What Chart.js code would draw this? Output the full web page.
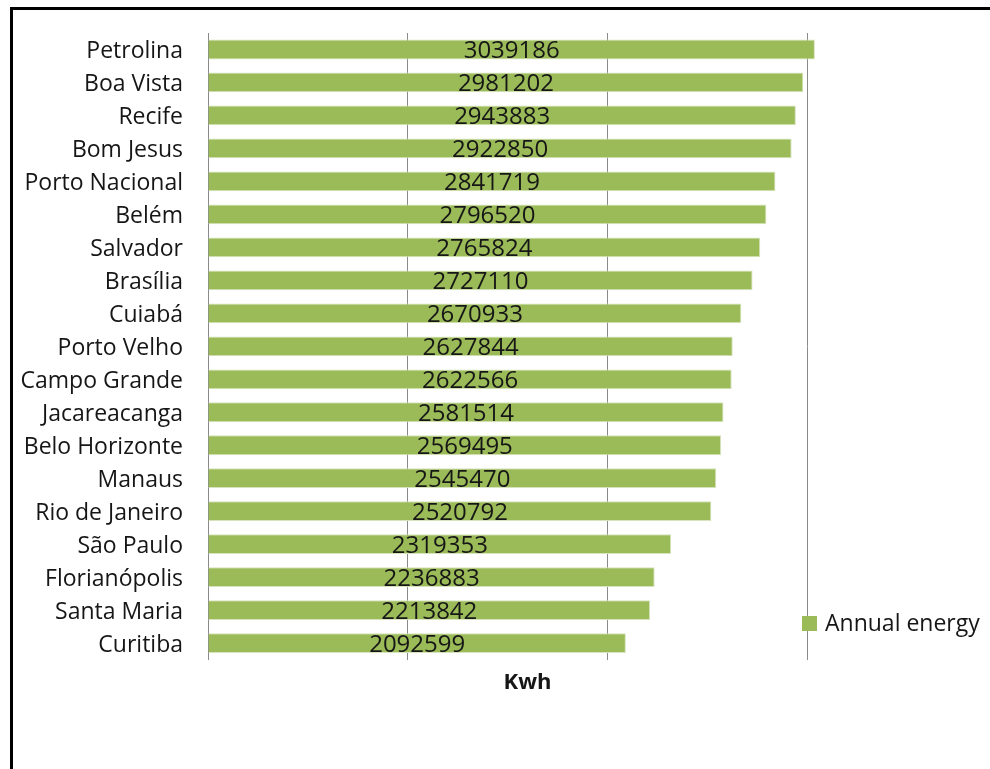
<!DOCTYPE html>
<html>
<head>
<meta charset="utf-8">
<title>Annual energy</title>
<script src="https://cdn.jsdelivr.net/npm/chart.js@4/dist/chart.umd.min.js"></script>
<style>
    body { margin: 0; background: #fff; }
    .wrap { position: relative; width: 990px; height: 769px; }
    .frame {
        position: absolute; left: 10px; top: 7px; right: 0; bottom: 0;
        border-top: 3px solid #000; border-left: 3px solid #000;
        pointer-events: none;
    }
</style>
</head>
<body>
<div class="wrap">
    <canvas id="energyChart"></canvas>
    <div class="frame"></div>
</div>
<script>
const cities = [
    'Petrolina', 'Boa Vista', 'Recife', 'Bom Jesus', 'Porto Nacional', 'Belém',
    'Salvador', 'Brasília', 'Cuiabá', 'Porto Velho', 'Campo Grande', 'Jacareacanga',
    'Belo Horizonte', 'Manaus', 'Rio de Janeiro', 'São Paulo', 'Florianópolis',
    'Santa Maria', 'Curitiba',
];
const annualEnergy = [
    3039186, 2981202, 2943883, 2922850, 2841719, 2796520,
    2765824, 2727110, 2670933, 2627844, 2622566, 2581514,
    2569495, 2545470, 2520792, 2319353, 2236883,
    2213842, 2092599,
];
// vertical gridlines (no tick labels shown on this axis)
const gridValues = [0, 1000000, 2000000, 3000000];
const seriesName = 'Annual energy';
const axisTitle = 'Kwh';

const GREEN = '#9BBB59';
const GRID = '#8a8a8a';
const TEXT = '#161616';
const FONT = '"Open Sans"';

Chart.defaults.font.family = FONT;
Chart.defaults.color = TEXT;

// value printed in the middle of each bar
const barValues = {
    id: 'barValues',
    afterDatasetsDraw(chart) {
        const ctx = chart.ctx;
        ctx.save();
        ctx.font = '24px ' + FONT;
        ctx.fillStyle = TEXT;
        ctx.textAlign = 'center';
        ctx.textBaseline = 'middle';
        chart.getDatasetMeta(0).data.forEach((bar, i) => {
            const v = chart.data.datasets[0].data[i];
            ctx.fillText(String(v), (bar.x + bar.base) / 2, bar.y + 2);
        });
        ctx.restore();
    },
};

// legend sits at the lower right, over the plot
const cornerLegend = {
    id: 'cornerLegend',
    afterDraw(chart) {
        const ctx = chart.ctx;
        const ds = chart.data.datasets[0];
        ctx.save();
        ctx.fillStyle = ds.backgroundColor;
        ctx.fillRect(802, 616, 15, 15);
        ctx.font = '23px ' + FONT;
        ctx.fillStyle = TEXT;
        ctx.textAlign = 'left';
        ctx.textBaseline = 'alphabetic';
        ctx.fillText(ds.label, 825, 631);
        ctx.restore();
    },
};

new Chart(document.querySelector('#energyChart'), {
    type: 'bar',
    data: {
        labels: cities,
        datasets: [
            {
                label: seriesName,
                data: annualEnergy,
                backgroundColor: GREEN,
                borderColor: '#d6e3bc',
                borderWidth: 1,
                categoryPercentage: 1,
                barPercentage: 0.6,
            },
        ],
    },
    options: {
        indexAxis: 'y',
        maintainAspectRatio: false,
        responsive: true,
        animation: false,
        layout: {
            padding: { top: 33, right: 143, bottom: 73, left: 0 },
        },
        scales: {
            x: {
                min: 0,
                max: 3200000,
                ticks: { display: false },
                afterBuildTicks(scale) {
                    scale.ticks = gridValues.map((value) => ({ value }));
                },
                grid: {
                    drawTicks: false,
                    lineWidth: 1,
                    color: GRID,
                },
                border: { display: false },
                title: {
                    display: true,
                    text: axisTitle,
                    color: TEXT,
                    font: { size: 22, weight: 'bold' },
                    padding: { top: 10, bottom: 0 },
                },
            },
            y: {
                grid: { display: false, drawTicks: false },
                border: { display: true, color: GRID },
                ticks: { font: { size: 23 }, padding: 25, labelOffset: 2, color: TEXT },
                afterFit(scale) {
                    scale.width = 208;
                    // labels stay inside their rows, no extra room above/below
                    scale.paddingTop = 0;
                    scale.paddingBottom = 0;
                },
            },
        },
        plugins: {
            legend: { display: false },
            tooltip: { enabled: false },
        },
    },
    plugins: [barValues, cornerLegend],
});
</script>
</body>
</html>
